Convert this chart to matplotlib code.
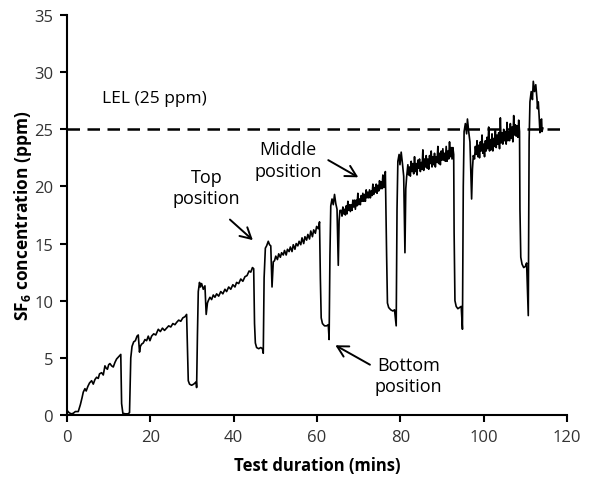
import matplotlib
matplotlib.use('Agg')
import matplotlib.pyplot as plt

plt.rcParams['font.family'] = ['Open Sans', 'DejaVu Sans']
plt.rcParams['mathtext.fontset'] = 'custom'
plt.rcParams['mathtext.bf'] = 'Open Sans:bold'
plt.rcParams['mathtext.rm'] = 'Open Sans'

# SF6 trace (time in minutes, concentration in ppm)
t_start = [0, 0.5, 1.0, 1.5, 2.0, 2.7, 3.2, 3.6, 3.9, 4.3, 4.6, 5.0, 5.4, 5.9, 6.3,
           6.7, 7.1, 7.5, 7.8, 8.3, 8.7, 9.1, 9.4, 9.7, 10.0, 10.3, 10.7, 11.1, 11.5,
           11.9, 12.4, 12.9, 13.1, 13.4, 14.0, 14.6, 15.0]
c_start = [0.4, 0.2, 0.1, 0.15, 0.3, 0.3, 0.9, 1.5, 2.0, 2.3, 2.1, 2.5, 2.8, 3.0, 2.7,
           3.1, 3.3, 3.2, 3.6, 3.7, 3.5, 4.3, 4.1, 4.0, 4.4, 4.5, 4.3, 4.2, 4.6,
           4.9, 5.1, 5.3, 1.0, 0.15, 0.1, 0.1, 0.2]

t_cycle1 = [15.3, 15.6, 16.0, 16.4, 16.8, 17.1, 17.4, 17.6, 17.9, 18.3, 18.7, 19.1, 19.5,
            19.9, 20.3, 20.8, 21.3, 21.9, 22.4, 22.9, 23.4, 23.9, 24.4, 24.9, 25.4, 25.9,
            26.3, 26.8, 27.3, 27.8, 28.3, 28.7, 28.9, 29.1, 29.4, 29.9, 30.4, 31.0, 31.1]
c_cycle1 = [5.0, 6.0, 6.4, 6.5, 6.9, 7.0, 5.5, 6.0, 6.2, 6.3, 6.6, 6.5, 6.9,
            6.5, 6.9, 7.1, 7.0, 7.5, 7.3, 7.6, 7.4, 7.6, 7.8, 7.7, 8.0, 7.9,
            8.1, 8.3, 8.2, 8.5, 8.6, 8.8, 6.0, 3.0, 2.7, 2.6, 2.7, 2.9, 2.4]

t_cycle2 = [31.3, 31.5, 31.8, 32.0, 32.3, 32.7, 33.1, 33.4, 33.7, 33.9, 34.3, 34.7, 35.1,
            35.5, 35.9, 36.4, 36.9, 37.4, 37.9, 38.3, 38.8, 39.3, 39.8, 40.3, 40.7, 41.2,
            41.7, 42.2, 42.7, 43.2, 43.7, 44.1, 44.5, 44.8, 45.0, 45.2, 45.5, 46.0, 46.5,
            46.9, 47.1]
c_cycle2 = [7.0, 10.8, 11.6, 11.2, 11.5, 11.0, 11.3, 8.8, 9.8, 10.0, 10.3, 10.1, 10.5,
            10.3, 10.6, 10.4, 10.8, 10.6, 11.0, 10.8, 11.2, 11.0, 11.4, 11.2, 11.6, 11.5,
            11.9, 11.7, 12.1, 12.2, 12.6, 12.5, 12.9, 12.8, 8.0, 6.3, 5.9, 5.8, 5.9,
            5.8, 5.4]

t_cycle3 = [47.3, 47.6, 47.9, 48.3, 48.6, 48.9, 49.2, 49.5, 49.8, 50.1, 50.5, 50.8, 51.2,
            51.5, 51.9, 52.2, 52.6, 52.9, 53.3, 53.6, 54.0, 54.3, 54.7, 55.0, 55.4, 55.7,
            56.1, 56.4, 56.8, 57.1, 57.5, 57.8, 58.2, 58.5, 58.9, 59.2, 59.6, 59.9, 60.3,
            60.6, 60.8, 61.0, 61.3, 61.8, 62.3, 62.7, 62.9]
c_cycle3 = [12.0, 14.6, 14.8, 15.2, 14.9, 14.8, 11.2, 13.4, 13.5, 13.9, 13.6, 14.1, 13.8,
            14.2, 14.0, 14.4, 14.0, 14.5, 14.3, 14.7, 14.3, 14.9, 14.5, 15.0, 14.8, 15.2,
            14.9, 15.5, 15.0, 15.6, 15.3, 15.8, 15.4, 16.1, 15.6, 16.2, 15.9, 16.5, 16.3,
            16.9, 12.0, 8.5, 8.0, 7.8, 7.8, 7.9, 6.6]

t_cycle4 = [63.1, 63.3, 63.6, 63.9, 64.2, 64.5, 64.8, 65.1, 65.3, 65.5,
            65.8, 66.0, 66.2, 66.4, 66.6, 66.8, 67.0, 67.2, 67.4, 67.6, 67.8, 68.0, 68.2,
            68.4, 68.6, 68.8, 69.0, 69.2, 69.4, 69.6, 69.8, 70.0, 70.2, 70.4, 70.6, 70.8,
            71.0, 71.2, 71.4, 71.6, 71.8, 72.0, 72.2, 72.4, 72.6, 72.8, 73.0, 73.2, 73.4,
            73.6, 73.8, 74.0, 74.2, 74.4, 74.6, 74.8, 75.0, 75.2, 75.4, 75.6, 75.8, 76.0,
            76.2, 76.4, 76.7, 76.9, 77.2, 77.7, 78.2, 78.6, 79.0]
c_cycle4 = [14.0, 18.3, 18.9, 18.4, 19.3, 18.5, 18.0, 13.1, 17.0, 17.9,
            17.9, 17.4, 18.2, 17.6, 18.0, 17.5, 18.3, 17.6, 18.7, 17.9, 18.4, 17.8, 18.4,
            17.9, 18.8, 18.2, 18.8, 18.0, 18.8, 18.3, 19.4, 18.4, 18.9, 18.4, 19.2, 18.7,
            19.4, 18.7, 19.3, 18.7, 19.7, 19.0, 19.5, 19.0, 19.7, 19.0, 19.6, 19.2, 20.2,
            19.3, 19.9, 19.5, 20.2, 19.4, 20.1, 19.6, 20.5, 19.8, 20.4, 19.8, 21.0, 19.9,
            20.7, 21.3, 14.0, 9.8, 9.4, 9.2, 9.1, 9.2, 7.8]

t_cycle5 = [79.2, 79.4, 79.7, 79.9, 80.2, 80.5, 80.8, 81.1, 81.3, 81.5,
            81.8, 82.0, 82.2, 82.4, 82.6, 82.8, 83.0, 83.2, 83.4, 83.6, 83.8, 84.0, 84.2,
            84.4, 84.6, 84.8, 85.0, 85.2, 85.4, 85.6, 85.8, 86.0, 86.2, 86.4, 86.6, 86.8,
            87.0, 87.2, 87.4, 87.6, 87.8, 88.0, 88.2, 88.4, 88.6, 88.8, 89.0, 89.2, 89.4,
            89.6, 89.8, 90.0, 90.2, 90.4, 90.6, 90.8, 91.0, 91.2, 91.4, 91.6, 91.8, 92.0,
            92.2, 92.4, 92.6, 92.8, 92.9, 93.1, 93.4, 93.8, 94.2, 94.6, 94.9]
c_cycle5 = [18.0, 22.2, 22.8, 21.9, 23.0, 22.0, 20.9, 14.2, 19.8, 20.8,
            21.9, 21.0, 21.7, 20.9, 22.2, 21.3, 22.0, 21.1, 22.6, 21.3, 22.0, 21.0, 22.3,
            21.6, 22.4, 21.3, 22.1, 21.5, 23.2, 21.4, 22.4, 21.7, 22.7, 21.6, 22.4, 21.5,
            22.7, 22.0, 23.1, 21.7, 22.6, 21.9, 22.9, 21.7, 22.6, 22.1, 23.5, 22.0, 22.9,
            21.9, 23.1, 22.3, 23.3, 22.3, 22.9, 22.2, 23.5, 22.2, 23.1, 22.4, 23.9, 22.6,
            23.4, 22.4, 23.4, 22.8, 16.0, 10.0, 9.5, 9.3, 9.4, 9.5, 7.5]

t_cycle6 = [95.1, 95.3, 95.6, 95.9, 96.1, 96.4, 96.7, 97.1, 97.3, 97.5,
            97.8, 98.0, 98.2, 98.4, 98.6, 98.8, 99.0, 99.2, 99.4, 99.6, 99.8, 100.0,
            100.2, 100.4, 100.6, 100.8, 101.0, 101.2, 101.4, 101.6, 101.8, 102.0, 102.2,
            102.4, 102.6, 102.8, 103.0, 103.2, 103.4, 103.6, 103.8, 104.0, 104.2, 104.4,
            104.6, 104.8, 105.0, 105.2, 105.4, 105.6, 105.8, 106.0, 106.2, 106.4, 106.6,
            106.8, 107.0, 107.2, 107.4, 107.6, 107.8, 108.0, 108.2, 108.4, 108.6,
            108.7, 108.9, 109.2, 109.6, 110.0, 110.3, 110.7]
c_cycle6 = [20.0, 24.8, 25.5, 24.6, 25.9, 24.8, 23.9, 18.9, 21.5, 22.7,
            22.4, 23.5, 22.8, 24.0, 22.6, 23.6, 22.5, 23.9, 23.1, 24.5, 22.9, 23.7,
            22.6, 24.0, 23.1, 24.3, 23.3, 25.2, 23.1, 24.1, 23.2, 24.6, 23.1,
            24.2, 23.5, 24.9, 23.4, 24.5, 23.7, 24.7, 23.3, 26.0, 23.8, 24.7,
            23.7, 25.0, 24.0, 24.8, 23.7, 25.6, 24.0, 24.8, 24.0, 25.5, 24.2,
            25.2, 23.9, 26.2, 24.5, 25.4, 24.4, 25.3, 24.3, 25.8, 24.8,
            18.0, 13.8, 13.2, 12.9, 13.0, 13.3, 8.7]

t_end = [110.9, 111.1, 111.4, 111.7, 111.9, 112.2, 112.5, 112.8, 112.9, 113.1, 113.3,
         113.5, 113.7, 113.9, 114.0, 114.2]
c_end = [24.0, 27.4, 28.3, 27.6, 29.2, 28.3, 28.9, 27.6, 26.8, 27.4, 26.2,
         24.7, 25.8, 25.9, 24.8, 25.1]

time_min = t_start + t_cycle1 + t_cycle2 + t_cycle3 + t_cycle4 + t_cycle5 + t_cycle6 + t_end
sf6_ppm = c_start + c_cycle1 + c_cycle2 + c_cycle3 + c_cycle4 + c_cycle5 + c_cycle6 + c_end

lel_ppm = 25

fig = plt.figure(figsize=(6.16, 4.85), dpi=100)
ax = fig.add_axes([0.1088, 0.1423, 0.8117, 0.8247])

ax.plot(time_min, sf6_ppm, color='black', lw=1.2)
ax.axhline(lel_ppm, color='black', lw=1.8, dashes=(5, 3))

arrow = dict(arrowstyle='->, head_length=0.55, head_width=0.3', color='black', lw=1.4,
             shrinkA=0, shrinkB=0, mutation_scale=14)
ax.text(8.5, 27.7, 'LEL (25 ppm)', fontsize=12.5, va='center', ha='left')

ax.text(33.5, 19.9, 'Top\nposition', fontsize=13, ha='center', va='center',
        linespacing=1.25)
ax.annotate('', xy=(44.6, 15.3), xytext=(39.1, 17.1), arrowprops=arrow)

ax.text(53.1, 22.3, 'Middle\nposition', fontsize=13, ha='center', va='center',
        linespacing=1.25)
ax.annotate('', xy=(69.9, 20.8), xytext=(62.7, 22.3), arrowprops=arrow)

ax.text(81.9, 3.45, 'Bottom\nposition', fontsize=13, ha='center', va='center',
        linespacing=1.25)
ax.annotate('', xy=(64.4, 6.1), xytext=(72.7, 4.4), arrowprops=arrow)

ax.set_xlim(0, 120)
ax.set_ylim(0, 35)
ax.set_xticks(range(0, 121, 20))
ax.set_yticks(range(0, 36, 5))
ax.spines['top'].set_visible(False)
ax.spines['right'].set_visible(False)
ax.spines['left'].set_linewidth(1.5)
ax.spines['bottom'].set_linewidth(1.5)
ax.tick_params(direction='out', length=5, width=1.5, labelsize=12, colors='black',
               pad=5)
for lbl in ax.get_xticklabels() + ax.get_yticklabels():
    lbl.set_color('#333333')

ax.set_xlabel('Test duration (mins)', fontsize=12, fontweight='bold', labelpad=8)
ax.set_ylabel(r'SF$_\mathbf{6}$ concentration (ppm)', fontsize=12.5, fontweight='bold')
ax.yaxis.set_label_coords(-0.066, 0.5)

fig.savefig('out.png', dpi=100)
